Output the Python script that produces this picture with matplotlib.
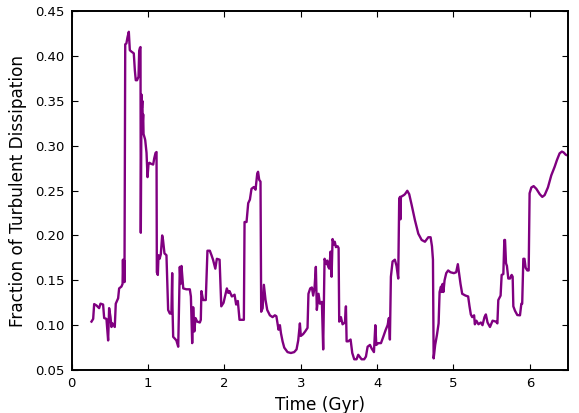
import matplotlib
matplotlib.use("Agg")
import matplotlib.pyplot as plt
import numpy as np

# time (Gyr) and fraction of turbulent dissipation
time_gyr = [
    0.258, 0.28, 0.293, 0.323, 0.358, 0.376, 0.41, 0.424, 0.454, 0.476,
    0.489, 0.507, 0.52, 0.533, 0.563, 0.576, 0.607, 0.62, 0.65, 0.665,
    0.67, 0.675, 0.685, 0.69, 0.70, 0.715, 0.73, 0.747, 0.76, 0.78,
    0.812, 0.826, 0.838, 0.855, 0.874, 0.883, 0.892, 0.90, 0.904, 0.913,
    0.918, 0.924, 0.93, 0.935, 0.94, 0.957, 0.962, 0.979, 0.992, 1.005,
    1.018, 1.035, 1.066, 1.08, 1.097, 1.11, 1.114, 1.127, 1.136, 1.15,
    1.166, 1.184, 1.195, 1.214, 1.24, 1.262, 1.284, 1.305, 1.315, 1.319,
    1.328, 1.35, 1.37, 1.394, 1.415, 1.425, 1.437, 1.46, 1.50, 1.546,
    1.56, 1.577, 1.59, 1.605, 1.62, 1.642, 1.677, 1.69, 1.698, 1.72,
    1.755, 1.777, 1.808, 1.83, 1.85, 1.88, 1.90, 1.936, 1.958, 1.988,
    2.031, 2.05, 2.066, 2.097, 2.132, 2.153, 2.175, 2.197, 2.219, 2.254,
    2.263, 2.289, 2.311, 2.333, 2.354, 2.385, 2.407, 2.429, 2.44, 2.455,
    2.472, 2.481, 2.5, 2.516, 2.538, 2.56, 2.595, 2.63, 2.66, 2.68,
    2.695, 2.708, 2.726, 2.74, 2.761, 2.783, 2.826, 2.87, 2.913, 2.944,
    2.966, 2.988, 3.0, 3.03, 3.057, 3.088, 3.1, 3.123, 3.145, 3.162,
    3.18, 3.197, 3.21, 3.232, 3.25, 3.276, 3.293, 3.311, 3.337, 3.346,
    3.36, 3.373, 3.39, 3.403, 3.416, 3.434, 3.445, 3.46, 3.482, 3.495,
    3.503, 3.525, 3.547, 3.578, 3.591, 3.6, 3.62, 3.652, 3.674, 3.7,
    3.73, 3.752, 3.77, 3.796, 3.83, 3.853, 3.875, 3.906, 3.928, 3.958,
    3.976, 3.989, 4.015, 4.05, 4.08, 4.111, 4.137, 4.154, 4.167, 4.18,
    4.202, 4.232, 4.254, 4.276, 4.289, 4.30, 4.305, 4.311, 4.35, 4.364,
    4.395, 4.42, 4.452, 4.495, 4.539, 4.583, 4.626, 4.67, 4.70, 4.718,
    4.731, 4.74, 4.76, 4.783, 4.805, 4.818, 4.836, 4.845, 4.857, 4.868,
    4.883, 4.905, 4.93, 4.96, 5.005, 5.035, 5.057, 5.075, 5.092, 5.114,
    5.157, 5.192, 5.21, 5.227, 5.245, 5.27, 5.28, 5.3, 5.327, 5.358,
    5.38, 5.406, 5.424, 5.446, 5.478, 5.512, 5.556, 5.575, 5.587, 5.617,
    5.631, 5.653, 5.666, 5.675, 5.688, 5.70, 5.718, 5.74, 5.762, 5.775,
    5.784, 5.806, 5.836, 5.871, 5.889, 5.90, 5.915, 5.93, 5.945, 5.967,
    5.985, 5.997, 6.02, 6.05, 6.085, 6.13, 6.163, 6.194, 6.237, 6.281,
    6.325, 6.355, 6.39, 6.42, 6.443, 6.47, 6.5,
]
dissipation = [
    0.104, 0.107, 0.1235, 0.122, 0.119, 0.124, 0.123, 0.108, 0.107, 0.083,
    0.119, 0.109, 0.098, 0.102, 0.098, 0.124, 0.130, 0.141, 0.143, 0.146,
    0.173, 0.150, 0.172, 0.148, 0.413, 0.414, 0.421, 0.427, 0.4065, 0.405,
    0.403, 0.384, 0.373, 0.373, 0.377, 0.406, 0.409, 0.410, 0.203, 0.357,
    0.342, 0.350, 0.327, 0.335, 0.313, 0.308, 0.306, 0.292, 0.265, 0.280,
    0.281, 0.280, 0.279, 0.286, 0.292, 0.293, 0.159, 0.156, 0.178, 0.174,
    0.179, 0.200, 0.195, 0.180, 0.178, 0.117, 0.113, 0.113, 0.158, 0.120,
    0.087, 0.085, 0.083, 0.076, 0.165, 0.146, 0.166, 0.141, 0.140, 0.140,
    0.132, 0.080, 0.120, 0.093, 0.108, 0.104, 0.103, 0.106, 0.138, 0.128,
    0.128, 0.183, 0.183, 0.178, 0.173, 0.163, 0.174, 0.173, 0.121, 0.125,
    0.141, 0.136, 0.138, 0.132, 0.134, 0.123, 0.127, 0.106, 0.106, 0.106,
    0.215, 0.215, 0.236, 0.240, 0.252, 0.254, 0.251, 0.269, 0.271, 0.262,
    0.260, 0.115, 0.119, 0.145, 0.128, 0.117, 0.111, 0.109, 0.111, 0.110,
    0.102, 0.095, 0.100, 0.091, 0.082, 0.075, 0.070, 0.069, 0.070, 0.073,
    0.083, 0.102, 0.088, 0.090, 0.093, 0.097, 0.135, 0.141, 0.142, 0.133,
    0.142, 0.165, 0.117, 0.135, 0.124, 0.126, 0.073, 0.174, 0.168, 0.172,
    0.165, 0.163, 0.182, 0.154, 0.196, 0.190, 0.193, 0.187, 0.188, 0.186,
    0.104, 0.109, 0.101, 0.103, 0.121, 0.082, 0.082, 0.084, 0.069, 0.062,
    0.062, 0.067, 0.065, 0.062, 0.062, 0.065, 0.076, 0.078, 0.074, 0.070,
    0.100, 0.078, 0.080, 0.080, 0.087, 0.0946, 0.100, 0.108, 0.084, 0.154,
    0.171, 0.173, 0.166, 0.152, 0.241, 0.243, 0.218, 0.243, 0.245, 0.246,
    0.2498, 0.246, 0.234, 0.217, 0.202, 0.195, 0.193, 0.198, 0.198, 0.188,
    0.173, 0.063, 0.078, 0.089, 0.102, 0.137, 0.143, 0.137, 0.146, 0.137,
    0.150, 0.158, 0.161, 0.159, 0.158, 0.159, 0.168, 0.157, 0.146, 0.135,
    0.133, 0.132, 0.121, 0.112, 0.109, 0.111, 0.101, 0.105, 0.101, 0.103,
    0.100, 0.109, 0.112, 0.103, 0.098, 0.105, 0.104, 0.102, 0.128, 0.133,
    0.156, 0.157, 0.195, 0.195, 0.169, 0.166, 0.152, 0.152, 0.156, 0.154,
    0.121, 0.116, 0.1113, 0.111, 0.124, 0.124, 0.174, 0.174, 0.164, 0.161,
    0.161, 0.247, 0.2535, 0.255, 0.252, 0.246, 0.243, 0.245, 0.2535, 0.267,
    0.2765, 0.284, 0.2915, 0.2935, 0.2925, 0.290, 0.289,
]

fig = plt.figure(figsize=(5.79, 4.13), dpi=100)
ax = fig.add_axes([0.124, 0.104, 0.857, 0.869])

ax.plot(time_gyr, dissipation, color="purple", lw=1.7)

ax.set_xlim(0, 6.5)
ax.set_ylim(0.05, 0.45)
ax.set_xticks(np.arange(0, 7, 1))
ax.set_yticks(np.arange(0.05, 0.451, 0.05))
ax.set_yticklabels([f"{v:.2f}" for v in np.arange(0.05, 0.451, 0.05)])
ax.tick_params(direction="in", top=True, right=True, labelsize=9.5, length=4, pad=5)
for s in ax.spines.values():
    s.set_linewidth(1.4)

ax.set_xlabel("Time (Gyr)", fontsize=12.2)
ax.set_ylabel("Fraction of Turbulent Dissipation", fontsize=12.2, labelpad=6)

fig.savefig("out.png", dpi=100)
